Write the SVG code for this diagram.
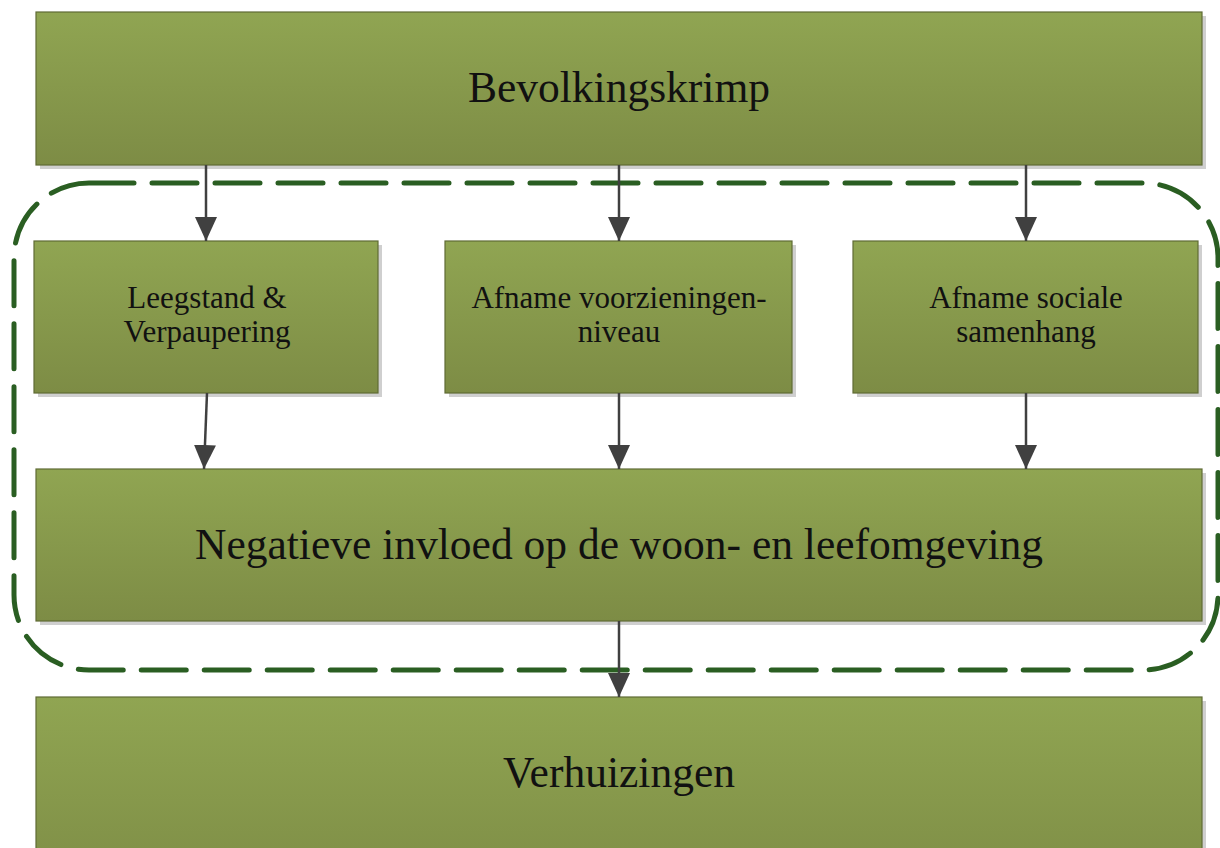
<svg xmlns="http://www.w3.org/2000/svg" width="1220" height="848" viewBox="0 0 1220 848">
<style>
.box{fill:url(#g);stroke:#5f6b35;stroke-width:1.2}
.sh{fill:#cfcfcf}
.t{font-family:"Liberation Serif","DejaVu Serif",serif;fill:#111;text-anchor:middle}
.big{font-size:43.5px}
.sm{font-size:31px}
.c{stroke:#404040;stroke-width:2.5;fill:none;marker-end:url(#a)}
</style>
<defs>
<linearGradient id="g" x1="0" y1="0" x2="0" y2="1">
<stop offset="0" stop-color="#90a552"/>
<stop offset="1" stop-color="#7d8c45"/>
</linearGradient>
<marker id="a" markerWidth="24" markerHeight="22" refX="24" refY="11" orient="auto" markerUnits="userSpaceOnUse" viewBox="0 0 24 22">
<path d="M0,0 L24,11 L0,22 Z" fill="#404040"/>
</marker>
</defs>
<g id="container">
<rect x="14" y="183" width="1204" height="487" rx="75" ry="75" fill="none" stroke="#2a5e22" stroke-width="5" stroke-dasharray="45 18" stroke-linecap="round"/>
</g>
<g id="n1">
<rect class="sh" x="40" y="16" width="1166" height="153"/>
<rect class="box" x="36" y="12" width="1166" height="153"/>
<text class="t big" x="619" y="102">Bevolkingskrimp</text>
</g>
<g id="n2">
<rect class="sh" x="38" y="245" width="344" height="152"/>
<rect class="box" x="34" y="241" width="344" height="152"/>
<text class="t sm" x="207" y="308">Leegstand &amp;</text>
<text class="t sm" x="207" y="342">Verpaupering</text>
</g>
<g id="n3">
<rect class="sh" x="449" y="245" width="347" height="152"/>
<rect class="box" x="445" y="241" width="347" height="152"/>
<text class="t sm" x="619" y="308">Afname voorzieningen-</text>
<text class="t sm" x="619" y="342">niveau</text>
</g>
<g id="n4">
<rect class="sh" x="857" y="245" width="345" height="152"/>
<rect class="box" x="853" y="241" width="345" height="152"/>
<text class="t sm" x="1026" y="308">Afname sociale</text>
<text class="t sm" x="1026" y="342">samenhang</text>
</g>
<g id="n5">
<rect class="sh" x="40" y="473" width="1166" height="152"/>
<rect class="box" x="36" y="469" width="1166" height="152"/>
<text class="t big" x="619" y="559">Negatieve invloed op de woon- en leefomgeving</text>
</g>
<g id="n6">
<rect class="sh" x="40" y="701" width="1166" height="200"/>
<rect class="box" x="36" y="697" width="1166" height="200"/>
<text class="t big" x="619" y="787">Verhuizingen</text>
</g>
<g id="connectors">
<path class="c" d="M206,165 L206,241"/>
<path class="c" d="M619,165 L619,241"/>
<path class="c" d="M1026,165 L1026,241"/>
<path class="c" d="M207,393 L204,469"/>
<path class="c" d="M619,393 L619,469"/>
<path class="c" d="M1026,393 L1026,469"/>
<path class="c" d="M619,621 L619,697"/>
</g>
</svg>
